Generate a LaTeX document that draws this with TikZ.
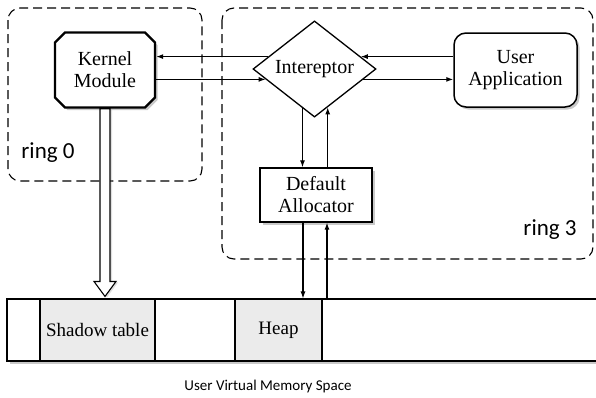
\documentclass[tikz,border=0pt]{standalone}
\usepackage{fontspec}
\setmainfont{Liberation Serif}
\newfontfamily\tnr{Liberation Serif}
\newfontfamily\calib{Carlito}
\usetikzlibrary{shapes.geometric,shapes.misc,shadows,arrows.meta,calc}
\definecolor{cellgray}{HTML}{EBEBEB}
\tikzset{
  conn/.style={line width=1.1pt,-{Latex[length=7pt,width=5pt]}},
  ringbox/.style={draw,line width=1.1pt,dash pattern=on 9pt off 5pt,rounded corners=12pt},
  sh/.style={drop shadow={shadow xshift=2.5pt,shadow yshift=-2.5pt,opacity=0.35,fill=black!60}},
  serif20/.style={font=\tnr\fontsize{20}{22}\selectfont,align=center},
  label24/.style={font=\calib\fontsize{23}{26}\selectfont},
  cell/.style={draw,line width=1.1pt,fill=cellgray,minimum height=62pt,inner sep=0pt,font=\tnr\fontsize{19}{21}\selectfont},
}
\begin{document}
\begin{tikzpicture}[x=1pt,y=-1pt]
\useasboundingbox (0,0) rectangle (596,397);
\fill[white] (0,0) rectangle (596,397);
% ring boxes
\draw[ringbox] (8,8) rectangle (202,181);
\draw[ringbox] (222,8) rectangle (593,259);
\node[label24] (r0) at (48,153) {ring 0};
\node[label24] (r3) at (550,230) {ring 3};
% memory bar
\draw[line width=1.1pt,fill=white,sh] (7,299) rectangle (640,361);
\node[cell,minimum width=115pt] (shadow) at (97.5,330) {Shadow table};
\node[cell,minimum width=87pt] (heap) at (278.5,330) {Heap};
\node[font=\calib\fontsize{15}{17}\selectfont] (cap) at (268,386) {User Virtual Memory Space};
% nodes
\node[draw,line width=2.4pt,fill=white,sh,chamfered rectangle,chamfered rectangle xsep=5pt,chamfered rectangle ysep=5pt,
      minimum width=100pt,minimum height=75pt,inner sep=0pt,serif20] (ker) at (105,70) {Kernel\\Module};
\node[draw,line width=1.3pt,fill=white,diamond,minimum width=123pt,minimum height=92pt,inner sep=0pt,serif20] (int) at (314.5,69) {Intereptor};
\node[draw,line width=1.5pt,fill=white,sh,rounded corners=12pt,minimum width=123pt,minimum height=74pt,inner sep=0pt,serif20] (app) at (515.5,70) {User\\Application};
\node[draw,line width=1.3pt,fill=white,sh,minimum width=112pt,minimum height=54pt,inner sep=0pt,serif20] (alloc) at (316,195) {Default\\Allocator};
% horizontal connectors
\draw[conn] (int.165) -- (int.165 -| ker.east);
\draw[conn] (ker.east |- int.192) -- (int.192);
\draw[conn] (app.west |- int.15) -- (int.15);
\draw[conn] (int.-12) -- (int.-12 -| app.west);
% vertical connectors
\coordinate (dx) at (303,0);
\coordinate (ux) at (327,0);
\draw[conn] (int.253) -- (int.253 |- alloc.north);
\draw[conn] (alloc.north -| int.289) -- (int.289);
\draw[conn] (alloc.south -| dx) -- (heap.north -| dx);
\draw[conn] (heap.north -| ux) -- (alloc.south -| ux);
% hollow arrow
\draw[line width=1.1pt,fill=white,drop shadow={shadow xshift=2pt,shadow yshift=-1pt,opacity=0.25}]
  ($(ker.south)+(-5,0)$) -- ($(ker.south |- shadow.north)+(-5,-17)$) -- ($(ker.south |- shadow.north)+(-11,-17)$)
  -- ($(ker.south |- shadow.north)+(0,-2)$) -- ($(ker.south |- shadow.north)+(11,-17)$)
  -- ($(ker.south |- shadow.north)+(5,-17)$) -- ($(ker.south)+(5,0)$) -- cycle;
\end{tikzpicture}
\end{document}
